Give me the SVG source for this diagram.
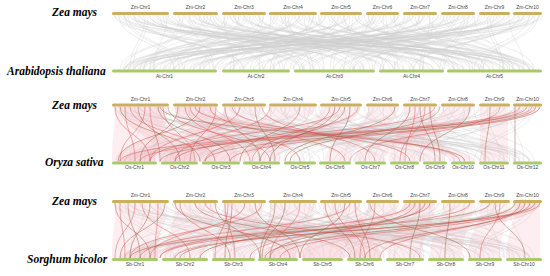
<svg xmlns="http://www.w3.org/2000/svg" xmlns:xlink="http://www.w3.org/1999/xlink" width="550" height="276" viewBox="0 0 550 276">
<style>
.sp{font-family:"Liberation Serif","Times New Roman",serif;font-weight:bold;font-style:italic;font-size:11.5px;fill:#000}
.cl{font-family:"Liberation Sans",Arial,sans-serif;font-size:5px;fill:#444;text-anchor:middle}
.zm{fill:#C9AF60}
.gr{fill:#A9C96C}
.g path{fill:none;stroke:#cfcfcf;stroke-width:0.6;stroke-opacity:0.6}
.rb{fill:#f4a3ae;fill-opacity:0.17;stroke:none}
.r{fill:none;stroke:#d9534f;stroke-width:0.6;stroke-opacity:0.8}
.b{fill:none;stroke:#9c5a3c;stroke-width:0.6;stroke-opacity:0.8}
</style>
<defs>
<g id="greyset" class="g">
<path d="M115 0C115 27.5 300 27.5 300 55"/><path d="M120 0C120 27.5 460 27.5 460 55"/><path d="M125 0C125 27.5 180 27.5 180 55"/><path d="M130 0C130 27.5 520 27.5 520 55"/>
<path d="M135 0C135 27.5 240 27.5 240 55"/><path d="M140 0C140 27.5 400 27.5 400 55"/><path d="M145 0C145 27.5 130 27.5 130 55"/><path d="M150 0C150 27.5 350 27.5 350 55"/>
<path d="M155 0C155 27.5 500 27.5 500 55"/><path d="M160 0C160 27.5 210 27.5 210 55"/><path d="M165 0C165 27.5 430 27.5 430 55"/><path d="M175 0C175 27.5 320 27.5 320 55"/>
<path d="M180 0C180 27.5 150 27.5 150 55"/><path d="M185 0C185 27.5 480 27.5 480 55"/><path d="M190 0C190 27.5 260 27.5 260 55"/><path d="M195 0C195 27.5 530 27.5 530 55"/>
<path d="M200 0C200 27.5 380 27.5 380 55"/><path d="M205 0C205 27.5 120 27.5 120 55"/><path d="M210 0C210 27.5 300 27.5 300 55"/><path d="M215 0C215 27.5 450 27.5 450 55"/>
<path d="M225 0C225 27.5 170 27.5 170 55"/><path d="M230 0C230 27.5 410 27.5 410 55"/><path d="M235 0C235 27.5 280 27.5 280 55"/><path d="M240 0C240 27.5 510 27.5 510 55"/>
<path d="M245 0C245 27.5 140 27.5 140 55"/><path d="M250 0C250 27.5 360 27.5 360 55"/><path d="M255 0C255 27.5 470 27.5 470 55"/><path d="M260 0C260 27.5 230 27.5 230 55"/>
<path d="M270 0C270 27.5 390 27.5 390 55"/><path d="M275 0C275 27.5 160 27.5 160 55"/><path d="M280 0C280 27.5 490 27.5 490 55"/><path d="M285 0C285 27.5 310 27.5 310 55"/>
<path d="M290 0C290 27.5 200 27.5 200 55"/><path d="M295 0C295 27.5 440 27.5 440 55"/><path d="M300 0C300 27.5 125 27.5 125 55"/><path d="M305 0C305 27.5 530 27.5 530 55"/>
<path d="M310 0C310 27.5 270 27.5 270 55"/><path d="M315 0C315 27.5 370 27.5 370 55"/><path d="M322 0C322 27.5 190 27.5 190 55"/><path d="M328 0C328 27.5 480 27.5 480 55"/>
<path d="M335 0C335 27.5 250 27.5 250 55"/><path d="M340 0C340 27.5 420 27.5 420 55"/><path d="M345 0C345 27.5 135 27.5 135 55"/><path d="M350 0C350 27.5 330 27.5 330 55"/>
<path d="M355 0C355 27.5 505 27.5 505 55"/><path d="M360 0C360 27.5 215 27.5 215 55"/><path d="M368 0C368 27.5 455 27.5 455 55"/><path d="M373 0C373 27.5 290 27.5 290 55"/>
<path d="M378 0C378 27.5 165 27.5 165 55"/><path d="M383 0C383 27.5 395 27.5 395 55"/><path d="M390 0C390 27.5 520 27.5 520 55"/><path d="M395 0C395 27.5 240 27.5 240 55"/>
<path d="M405 0C405 27.5 350 27.5 350 55"/><path d="M410 0C410 27.5 140 27.5 140 55"/><path d="M415 0C415 27.5 470 27.5 470 55"/><path d="M420 0C420 27.5 300 27.5 300 55"/>
<path d="M425 0C425 27.5 200 27.5 200 55"/><path d="M430 0C430 27.5 420 27.5 420 55"/><path d="M438 0C438 27.5 260 27.5 260 55"/><path d="M443 0C443 27.5 510 27.5 510 55"/>
<path d="M448 0C448 27.5 175 27.5 175 55"/><path d="M455 0C455 27.5 380 27.5 380 55"/><path d="M460 0C460 27.5 125 27.5 125 55"/><path d="M465 0C465 27.5 440 27.5 440 55"/>
<path d="M470 0C470 27.5 310 27.5 310 55"/><path d="M482 0C482 27.5 230 27.5 230 55"/><path d="M487 0C487 27.5 500 27.5 500 55"/><path d="M492 0C492 27.5 150 27.5 150 55"/>
<path d="M497 0C497 27.5 360 27.5 360 55"/><path d="M505 0C505 27.5 270 27.5 270 55"/><path d="M515 0C515 27.5 190 27.5 190 55"/><path d="M520 0C520 27.5 410 27.5 410 55"/>
<path d="M525 0C525 27.5 130 27.5 130 55"/><path d="M530 0C530 27.5 340 27.5 340 55"/><path d="M535 0C535 27.5 480 27.5 480 55"/><path d="M540 0C540 27.5 220 27.5 220 55"/>
</g>
</defs>

<g id="connectors">
<g id="grey-links">
<use xlink:href="#greyset" transform="translate(0,15)"/>
<use xlink:href="#greyset" transform="matrix(-1,0,0,1,654,15)"/>
<use xlink:href="#greyset" transform="translate(3,15)"/>
<use xlink:href="#greyset" transform="translate(0,106.5)"/>
<use xlink:href="#greyset" transform="matrix(-1,0,0,1,654,106.5)"/>
<use xlink:href="#greyset" transform="translate(0,203)"/>
<use xlink:href="#greyset" transform="matrix(-1,0,0,1,654,203)"/>
</g>
<g id="ribbons-zm-os">
<path class="rb" d="M115 106.5C115 134 112 134 112 161.5L155 161.5C155 134 165 134 165 106.5Z"/>
<path class="rb" d="M120 106.5C120 134 160 134 160 161.5L195 161.5C195 134 160 134 160 106.5Z"/>
<path class="rb" d="M175 106.5C175 134 200 134 200 161.5L238 161.5C238 134 215 134 215 106.5Z"/>
<path class="rb" d="M225 106.5C225 134 115 134 115 161.5L150 161.5C150 134 262 134 262 106.5Z"/>
<path class="rb" d="M270 106.5C270 134 165 134 165 161.5L198 161.5C198 134 315 134 315 106.5Z"/>
<path class="rb" d="M322 106.5C322 134 243 134 243 161.5L280 161.5C280 134 360 134 360 106.5Z"/>
<path class="rb" d="M368 106.5C368 134 325 134 325 161.5L350 161.5C350 134 398 134 398 106.5Z"/>
<path class="rb" d="M405 106.5C405 134 390 134 390 161.5L445 161.5C445 134 435 134 435 106.5Z"/>
<path class="rb" d="M443 106.5C443 134 355 134 355 161.5L385 161.5C385 134 473 134 473 106.5Z"/>
<path class="rb" d="M480 106.5C480 134 480 134 480 161.5L508 161.5C508 134 508 134 508 106.5Z"/>
<path class="rb" d="M515 106.5C515 134 120 134 120 161.5L240 161.5C240 134 540 134 540 106.5Z"/>
<path class="rb" d="M175 106.5C175 134 450 134 450 161.5L475 161.5C475 134 215 134 215 106.5Z"/>
</g>
<g id="links-zm-os">
<path class="r" d="M115 106.5C115 134 150 134 150 161.5"/><path class="b" d="M120 106.5C120 134 200 134 200 161.5"/>
<path class="r" d="M125 106.5C125 134 135 134 135 161.5"/><path class="r" d="M130 106.5C130 134 215 134 215 161.5"/>
<path class="b" d="M138 106.5C138 134 180 134 180 161.5"/><path class="r" d="M145 106.5C145 134 120 134 120 161.5"/>
<path class="r" d="M150 106.5C150 134 160 134 160 161.5"/><path class="b" d="M158 106.5C158 134 230 134 230 161.5"/>
<path class="r" d="M163 106.5C163 134 195 134 195 161.5"/><path class="r" d="M168 106.5C168 134 270 134 270 161.5"/>
<path class="b" d="M178 106.5C178 134 140 134 140 161.5"/><path class="r" d="M185 106.5C185 134 250 134 250 161.5"/>
<path class="r" d="M190 106.5C190 134 300 134 300 161.5"/><path class="b" d="M200 106.5C200 134 118 134 118 161.5"/>
<path class="r" d="M210 106.5C210 134 345 134 345 161.5"/><path class="r" d="M216 106.5C216 134 190 134 190 161.5"/>
<path class="b" d="M225 106.5C225 134 260 134 260 161.5"/><path class="r" d="M232 106.5C232 134 410 134 410 161.5"/>
<path class="r" d="M240 106.5C240 134 150 134 150 161.5"/><path class="b" d="M255 106.5C255 134 275 134 275 161.5"/>
<path class="r" d="M262 106.5C262 134 375 134 375 161.5"/><path class="r" d="M270 106.5C270 134 175 134 175 161.5"/>
<path class="b" d="M300 106.5C300 134 240 134 240 161.5"/><path class="r" d="M330 106.5C330 134 252 134 252 161.5"/>
<path class="b" d="M335 106.5C335 134 270 134 270 161.5"/><path class="r" d="M340 106.5C340 134 150 134 150 161.5"/>
<path class="b" d="M345 106.5C345 134 260 134 260 161.5"/><path class="b" d="M350 106.5C350 134 330 134 330 161.5"/>
<path class="r" d="M358 106.5C358 134 205 134 205 161.5"/><path class="b" d="M395 106.5C395 134 285 134 285 161.5"/>
<path class="b" d="M410 106.5C410 134 365 134 365 161.5"/><path class="r" d="M415 106.5C415 134 405 134 405 161.5"/>
<path class="b" d="M420 106.5C420 134 435 134 435 161.5"/><path class="r" d="M425 106.5C425 134 400 134 400 161.5"/>
<path class="b" d="M430 106.5C430 134 440 134 440 161.5"/><path class="r" d="M435 106.5C435 134 175 134 175 161.5"/>
<path class="b" d="M440 106.5C440 134 290 134 290 161.5"/><path class="b" d="M470 106.5C470 134 420 134 420 161.5"/>
<path class="b" d="M490 106.5C490 134 485 134 485 161.5"/><path class="r" d="M500 106.5C500 134 350 134 350 161.5"/>
<path class="b" d="M515 106.5C515 134 515 134 515 161.5"/><path class="r" d="M520 106.5C520 134 120 134 120 161.5"/>
<path class="b" d="M527 106.5C527 134 160 134 160 161.5"/><path class="r" d="M532 106.5C532 134 140 134 140 161.5"/>
<path class="b" d="M536 106.5C536 134 205 134 205 161.5"/><path class="r" d="M540 106.5C540 134 230 134 230 161.5"/>
<path class="b" d="M160 106.5C160 134 465 134 465 161.5"/><path class="r" d="M195 106.5C195 134 460 134 460 161.5"/>
</g>
<g id="ribbons-zm-sb">
<path class="rb" d="M115 203C115 230 112 230 112 258L158 258C158 230 165 230 165 203Z"/>
<path class="rb" d="M175 203C175 230 165 230 165 258L205 258C205 230 215 230 215 203Z"/>
<path class="rb" d="M225 203C225 230 212 230 212 258L255 258C255 230 262 230 262 203Z"/>
<path class="rb" d="M270 203C270 230 260 230 260 258L296 258C296 230 315 230 315 203Z"/>
<path class="rb" d="M322 203C322 230 348 230 348 258L380 258C380 230 360 230 360 203Z"/>
<path class="rb" d="M368 203C368 230 302 230 302 258L342 258C342 230 398 230 398 203Z"/>
<path class="rb" d="M405 203C405 230 388 230 388 258L422 258C422 230 435 230 435 203Z"/>
<path class="rb" d="M443 203C443 230 430 230 430 258L462 258C462 230 473 230 473 203Z"/>
<path class="rb" d="M480 203C480 230 468 230 468 258L500 258C500 230 508 230 508 203Z"/>
<path class="rb" d="M515 203C515 230 506 230 506 258L540 258C540 230 540 230 540 203Z"/>
<path class="rb" d="M405 203C405 230 120 230 120 258L160 258C160 230 435 230 435 203Z"/>
<path class="rb" d="M515 203C515 230 260 230 260 258L380 258C380 230 540 230 540 203Z"/>
</g>
<g id="links-zm-sb">
<path class="b" d="M115 203C115 230 150 230 150 258"/><path class="r" d="M120 203C120 230 125 230 125 258"/>
<path class="b" d="M128 203C128 230 140 230 140 258"/><path class="r" d="M135 203C135 230 115 230 115 258"/>
<path class="r" d="M142 203C142 230 190 230 190 258"/><path class="b" d="M150 203C150 230 130 230 130 258"/>
<path class="r" d="M158 203C158 230 155 230 155 258"/><path class="b" d="M165 203C165 230 120 230 120 258"/>
<path class="b" d="M175 203C175 230 290 230 290 258"/><path class="r" d="M180 203C180 230 230 230 230 258"/>
<path class="b" d="M195 203C195 230 350 230 350 258"/><path class="r" d="M205 203C205 230 420 230 420 258"/>
<path class="b" d="M215 203C215 230 260 230 260 258"/><path class="r" d="M225 203C225 230 235 230 235 258"/>
<path class="r" d="M228 203C228 230 215 230 215 258"/><path class="b" d="M232 203C232 230 225 230 225 258"/>
<path class="r" d="M245 203C245 230 150 230 150 258"/><path class="b" d="M255 203C255 230 300 230 300 258"/>
<path class="r" d="M262 203C262 230 130 230 130 258"/><path class="b" d="M275 203C275 230 260 230 260 258"/>
<path class="b" d="M285 203C285 230 262 230 262 258"/><path class="r" d="M300 203C300 230 270 230 270 258"/>
<path class="b" d="M325 203C325 230 355 230 355 258"/><path class="r" d="M335 203C335 230 365 230 365 258"/>
<path class="b" d="M345 203C345 230 300 230 300 258"/><path class="r" d="M350 203C350 230 140 230 140 258"/>
<path class="b" d="M355 203C355 230 370 230 370 258"/><path class="b" d="M370 203C370 230 470 230 470 258"/>
<path class="r" d="M375 203C375 230 360 230 360 258"/><path class="r" d="M410 203C410 230 160 230 160 258"/>
<path class="b" d="M415 203C415 230 270 230 270 258"/><path class="b" d="M420 203C420 230 410 230 410 258"/>
<path class="r" d="M425 203C425 230 250 230 250 258"/><path class="b" d="M430 203C430 230 200 230 200 258"/>
<path class="b" d="M515 203C515 230 265 230 265 258"/><path class="r" d="M520 203C520 230 380 230 380 258"/>
<path class="b" d="M525 203C525 230 365 230 365 258"/><path class="r" d="M530 203C530 230 280 230 280 258"/>
<path class="b" d="M535 203C535 230 180 230 180 258"/><path class="r" d="M540 203C540 230 175 230 175 258"/>
<path class="b" d="M450 203C450 230 445 230 445 258"/><path class="b" d="M495 203C495 230 525 230 525 258"/>
<path class="r" d="M500 203C500 230 480 230 480 258"/><path class="r" d="M470 203C470 230 160 230 160 258"/>
<path class="b" d="M490 203C490 230 130 230 130 258"/>
</g>
</g>

<g id="species-labels">
<text id="sp-zm1" class="sp" x="52" y="15.5">Zea mays</text>
<text id="sp-at" class="sp" x="7" y="74.5">Arabidopsis thaliana</text>
<text id="sp-zm2" class="sp" x="52" y="109">Zea mays</text>
<text id="sp-os" class="sp" x="45" y="165.5">Oryza sativa</text>
<text id="sp-zm3" class="sp" x="52" y="204.5">Zea mays</text>
<text id="sp-sb" class="sp" x="27" y="262.5">Sorghum bicolor</text>
</g>

<!-- Panel 1: Zea mays vs Arabidopsis -->
<g id="p1-zm">
<g id="p1-Zm-Chr1"><rect class="zm" x="112" y="12" width="57" height="3" rx="1.5"/><text class="cl" x="140.5" y="9">Zm-Chr1</text></g>
<g id="p1-Zm-Chr2"><rect class="zm" x="173" y="12" width="45" height="3" rx="1.5"/><text class="cl" x="195.5" y="9">Zm-Chr2</text></g>
<g id="p1-Zm-Chr3"><rect class="zm" x="222" y="12" width="44" height="3" rx="1.5"/><text class="cl" x="244" y="9">Zm-Chr3</text></g>
<g id="p1-Zm-Chr4"><rect class="zm" x="269" y="12" width="48" height="3" rx="1.5"/><text class="cl" x="293" y="9">Zm-Chr4</text></g>
<g id="p1-Zm-Chr5"><rect class="zm" x="320" y="12" width="42" height="3" rx="1.5"/><text class="cl" x="341" y="9">Zm-Chr5</text></g>
<g id="p1-Zm-Chr6"><rect class="zm" x="366" y="12" width="33" height="3" rx="1.5"/><text class="cl" x="382.5" y="9">Zm-Chr6</text></g>
<g id="p1-Zm-Chr7"><rect class="zm" x="403" y="12" width="34" height="3" rx="1.5"/><text class="cl" x="420" y="9">Zm-Chr7</text></g>
<g id="p1-Zm-Chr8"><rect class="zm" x="441" y="12" width="34" height="3" rx="1.5"/><text class="cl" x="458" y="9">Zm-Chr8</text></g>
<g id="p1-Zm-Chr9"><rect class="zm" x="479" y="12" width="31" height="3" rx="1.5"/><text class="cl" x="494.5" y="9">Zm-Chr9</text></g>
<g id="p1-Zm-Chr10"><rect class="zm" x="513" y="12" width="29" height="3" rx="1.5"/><text class="cl" x="527.5" y="9">Zm-Chr10</text></g>
</g>
<g id="p1-at">
<g id="At-Chr1"><rect class="gr" x="112" y="69.5" width="105" height="3" rx="1.5"/><text class="cl" x="164.5" y="78">At-Chr1</text></g>
<g id="At-Chr2"><rect class="gr" x="222" y="69.5" width="68" height="3" rx="1.5"/><text class="cl" x="256" y="78">At-Chr2</text></g>
<g id="At-Chr3"><rect class="gr" x="294" y="69.5" width="81" height="3" rx="1.5"/><text class="cl" x="334.5" y="78">At-Chr3</text></g>
<g id="At-Chr4"><rect class="gr" x="379" y="69.5" width="65" height="3" rx="1.5"/><text class="cl" x="411.5" y="78">At-Chr4</text></g>
<g id="At-Chr5"><rect class="gr" x="447" y="69.5" width="95" height="3" rx="1.5"/><text class="cl" x="494.5" y="78">At-Chr5</text></g>
</g>

<!-- Panel 2: Zea mays vs Oryza -->
<g id="p2-zm">
<g id="p2-Zm-Chr1"><rect class="zm" x="112" y="103.5" width="57" height="3" rx="1.5"/><text class="cl" x="140.5" y="101">Zm-Chr1</text></g>
<g id="p2-Zm-Chr2"><rect class="zm" x="173" y="103.5" width="45" height="3" rx="1.5"/><text class="cl" x="195.5" y="101">Zm-Chr2</text></g>
<g id="p2-Zm-Chr3"><rect class="zm" x="222" y="103.5" width="44" height="3" rx="1.5"/><text class="cl" x="244" y="101">Zm-Chr3</text></g>
<g id="p2-Zm-Chr4"><rect class="zm" x="269" y="103.5" width="48" height="3" rx="1.5"/><text class="cl" x="293" y="101">Zm-Chr4</text></g>
<g id="p2-Zm-Chr5"><rect class="zm" x="320" y="103.5" width="42" height="3" rx="1.5"/><text class="cl" x="341" y="101">Zm-Chr5</text></g>
<g id="p2-Zm-Chr6"><rect class="zm" x="366" y="103.5" width="33" height="3" rx="1.5"/><text class="cl" x="382.5" y="101">Zm-Chr6</text></g>
<g id="p2-Zm-Chr7"><rect class="zm" x="403" y="103.5" width="34" height="3" rx="1.5"/><text class="cl" x="420" y="101">Zm-Chr7</text></g>
<g id="p2-Zm-Chr8"><rect class="zm" x="441" y="103.5" width="34" height="3" rx="1.5"/><text class="cl" x="458" y="101">Zm-Chr8</text></g>
<g id="p2-Zm-Chr9"><rect class="zm" x="479" y="103.5" width="31" height="3" rx="1.5"/><text class="cl" x="494.5" y="101">Zm-Chr9</text></g>
<g id="p2-Zm-Chr10"><rect class="zm" x="513" y="103.5" width="29" height="3" rx="1.5"/><text class="cl" x="527.5" y="101">Zm-Chr10</text></g>
</g>
<g id="p2-os">
<g id="Os-Chr1"><rect class="gr" x="112" y="161.5" width="45" height="3" rx="1.5"/><text class="cl" x="134.5" y="169">Os-Chr1</text></g>
<g id="Os-Chr2"><rect class="gr" x="161" y="161.5" width="37" height="3" rx="1.5"/><text class="cl" x="179.5" y="169">Os-Chr2</text></g>
<g id="Os-Chr3"><rect class="gr" x="202" y="161.5" width="38" height="3" rx="1.5"/><text class="cl" x="221" y="169">Os-Chr3</text></g>
<g id="Os-Chr4"><rect class="gr" x="243" y="161.5" width="37" height="3" rx="1.5"/><text class="cl" x="261.5" y="169">Os-Chr4</text></g>
<g id="Os-Chr5"><rect class="gr" x="284" y="161.5" width="32" height="3" rx="1.5"/><text class="cl" x="300" y="169">Os-Chr5</text></g>
<g id="Os-Chr6"><rect class="gr" x="319" y="161.5" width="32" height="3" rx="1.5"/><text class="cl" x="335" y="169">Os-Chr6</text></g>
<g id="Os-Chr7"><rect class="gr" x="355" y="161.5" width="31" height="3" rx="1.5"/><text class="cl" x="370.5" y="169">Os-Chr7</text></g>
<g id="Os-Chr8"><rect class="gr" x="390" y="161.5" width="29" height="3" rx="1.5"/><text class="cl" x="404.5" y="169">Os-Chr8</text></g>
<g id="Os-Chr9"><rect class="gr" x="423" y="161.5" width="24" height="3" rx="1.5"/><text class="cl" x="435" y="169">Os-Chr9</text></g>
<g id="Os-Chr10"><rect class="gr" x="451" y="161.5" width="24" height="3" rx="1.5"/><text class="cl" x="463" y="169">Os-Chr10</text></g>
<g id="Os-Chr11"><rect class="gr" x="479" y="161.5" width="30" height="3" rx="1.5"/><text class="cl" x="494" y="169">Os-Chr11</text></g>
<g id="Os-Chr12"><rect class="gr" x="513" y="161.5" width="29" height="3" rx="1.5"/><text class="cl" x="527.5" y="169">Os-Chr12</text></g>
</g>

<!-- Panel 3: Zea mays vs Sorghum -->
<g id="p3-zm">
<g id="p3-Zm-Chr1"><rect class="zm" x="112" y="200" width="57" height="3" rx="1.5"/><text class="cl" x="140.5" y="197">Zm-Chr1</text></g>
<g id="p3-Zm-Chr2"><rect class="zm" x="173" y="200" width="45" height="3" rx="1.5"/><text class="cl" x="195.5" y="197">Zm-Chr2</text></g>
<g id="p3-Zm-Chr3"><rect class="zm" x="222" y="200" width="44" height="3" rx="1.5"/><text class="cl" x="244" y="197">Zm-Chr3</text></g>
<g id="p3-Zm-Chr4"><rect class="zm" x="269" y="200" width="48" height="3" rx="1.5"/><text class="cl" x="293" y="197">Zm-Chr4</text></g>
<g id="p3-Zm-Chr5"><rect class="zm" x="320" y="200" width="42" height="3" rx="1.5"/><text class="cl" x="341" y="197">Zm-Chr5</text></g>
<g id="p3-Zm-Chr6"><rect class="zm" x="366" y="200" width="33" height="3" rx="1.5"/><text class="cl" x="382.5" y="197">Zm-Chr6</text></g>
<g id="p3-Zm-Chr7"><rect class="zm" x="403" y="200" width="34" height="3" rx="1.5"/><text class="cl" x="420" y="197">Zm-Chr7</text></g>
<g id="p3-Zm-Chr8"><rect class="zm" x="441" y="200" width="34" height="3" rx="1.5"/><text class="cl" x="458" y="197">Zm-Chr8</text></g>
<g id="p3-Zm-Chr9"><rect class="zm" x="479" y="200" width="31" height="3" rx="1.5"/><text class="cl" x="494.5" y="197">Zm-Chr9</text></g>
<g id="p3-Zm-Chr10"><rect class="zm" x="513" y="200" width="29" height="3" rx="1.5"/><text class="cl" x="527.5" y="197">Zm-Chr10</text></g>
</g>
<g id="p3-sb">
<g id="Sb-Chr1"><rect class="gr" x="112" y="258" width="46" height="3" rx="1.5"/><text class="cl" x="135" y="266">Sb-Chr1</text></g>
<g id="Sb-Chr2"><rect class="gr" x="162" y="258" width="46" height="3" rx="1.5"/><text class="cl" x="185" y="266">Sb-Chr2</text></g>
<g id="Sb-Chr3"><rect class="gr" x="212" y="258" width="43" height="3" rx="1.5"/><text class="cl" x="233.5" y="266">Sb-Chr3</text></g>
<g id="Sb-Chr4"><rect class="gr" x="258" y="258" width="40" height="3" rx="1.5"/><text class="cl" x="278" y="266">Sb-Chr4</text></g>
<g id="Sb-Chr5"><rect class="gr" x="302" y="258" width="41" height="3" rx="1.5"/><text class="cl" x="322.5" y="266">Sb-Chr5</text></g>
<g id="Sb-Chr6"><rect class="gr" x="347" y="258" width="35" height="3" rx="1.5"/><text class="cl" x="364.5" y="266">Sb-Chr6</text></g>
<g id="Sb-Chr7"><rect class="gr" x="386" y="258" width="38" height="3" rx="1.5"/><text class="cl" x="405" y="266">Sb-Chr7</text></g>
<g id="Sb-Chr8"><rect class="gr" x="428" y="258" width="36" height="3" rx="1.5"/><text class="cl" x="446" y="266">Sb-Chr8</text></g>
<g id="Sb-Chr9"><rect class="gr" x="468" y="258" width="34" height="3" rx="1.5"/><text class="cl" x="485" y="266">Sb-Chr9</text></g>
<g id="Sb-Chr10"><rect class="gr" x="506" y="258" width="36" height="3" rx="1.5"/><text class="cl" x="524" y="266">Sb-Chr10</text></g>
</g>
</svg>
